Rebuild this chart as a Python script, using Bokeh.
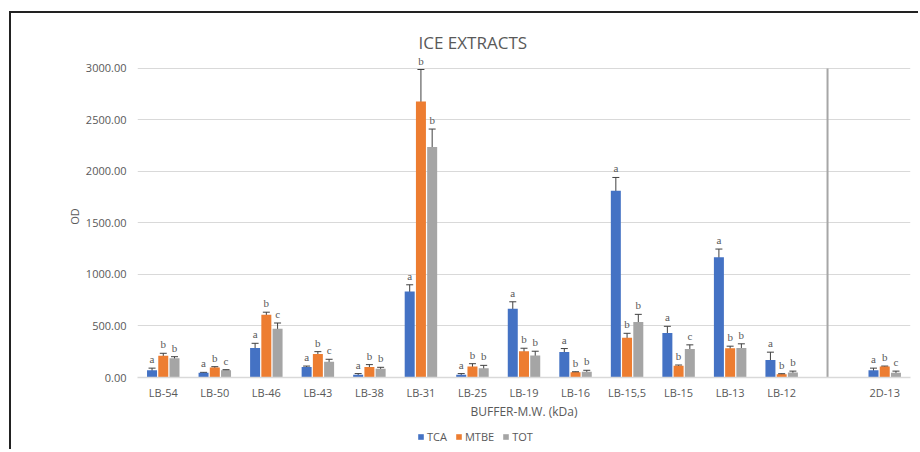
from bokeh.plotting import figure
from bokeh.layouts import column
from bokeh.models import (ColumnDataSource, Range1d, FixedTicker, NumeralTickFormatter,
                          Whisker, TeeHead, LabelSet, Legend, LegendItem, Title)
from bokeh.embed import file_html
from bokeh.resources import INLINE

categories = ["LB-54", "LB-50", "LB-46", "LB-43", "LB-38", "LB-31", "LB-25", "LB-19",
              "LB-16", "LB-15,5", "LB-15", "LB-13", "LB-12", "2D-13"]
series = ["TCA", "MTBE", "TOT"]
tca = [71, 45, 287, 103, 26, 835, 26, 667, 248, 1812, 432, 1167, 171, 71]
tca_err = [20, 5, 45, 8, 12, 65, 12, 68, 33, 130, 65, 80, 75, 20]
mtbe = [210, 97, 609, 229, 103, 2680, 106, 255, 52, 387, 113, 284, 32, 106]
mtbe_err = [25, 8, 25, 22, 22, 310, 28, 29, 4, 42, 8, 20, 5, 5]
tot = [187, 71, 474, 152, 84, 2237, 90, 213, 55, 539, 277, 287, 48, 45]
tot_err = [15, 5, 55, 25, 15, 175, 28, 42, 15, 74, 40, 40, 14, 17]
tca_letters = ["a"] * 14
mtbe_letters = ["b"] * 14
tot_letters = ["b", "c", "c", "c", "b", "b", "b", "b", "b", "b", "c", "b", "b", "c"]
y_ticks = [0, 500, 1000, 1500, 2000, 2500, 3000]

colors = ["#4472C4", "#ED7D31", "#A5A5A5"]
TXT = "#595959"
FONT = "Open Sans"
FRAME = "2px solid #222222"

# slot index; an empty slot separates the 2D sample
gap_after = 13
xpos = [i if i < gap_after else i + 1 for i in range(len(categories))]

p = figure(width=909, height=412, x_range=Range1d(-0.5, 14.5), y_range=Range1d(0, 3126),
           output_backend="svg", toolbar_location=None,
           min_border_left=126, min_border_right=10, min_border_top=42, min_border_bottom=48)
p.styles = {"margin-left": "9px", "margin-top": "11px",
            "border-left": FRAME, "border-top": FRAME}
p.outline_line_color = None
p.xgrid.grid_line_color = None
p.ygrid.grid_line_color = "#D9D9D9"
p.ygrid.ticker = FixedTicker(ticks=y_ticks)

t = Title(text="ICE EXTRACTS", align="left", offset=281, standoff=3,
          text_font=FONT, text_font_size="17px", text_font_style="normal", text_color=TXT)
p.add_layout(t, "above")

# y axis
p.yaxis.ticker = FixedTicker(ticks=y_ticks)
p.yaxis.formatter = NumeralTickFormatter(format="0.00")
p.yaxis.axis_line_color = None
p.yaxis.major_tick_line_color = None
p.yaxis.minor_tick_line_color = None
p.yaxis.major_tick_out = 0
p.yaxis.major_tick_in = 0
p.yaxis.major_label_standoff = 11
p.yaxis.major_label_text_font = FONT
p.yaxis.major_label_text_font_size = "11px"
p.yaxis.major_label_text_color = TXT
p.yaxis.axis_label = "OD"
p.yaxis.axis_label_text_font = FONT
p.yaxis.axis_label_text_font_size = "11px"
p.yaxis.axis_label_text_font_style = "normal"
p.yaxis.axis_label_text_color = TXT
p.yaxis.axis_label_standoff = 1

# x axis
p.xaxis.ticker = FixedTicker(ticks=xpos)
p.xaxis.major_label_overrides = {x: c for x, c in zip(xpos, categories)}
p.xaxis.axis_line_color = "#D9D9D9"
p.xaxis.axis_line_width = 1.5
p.xaxis.major_tick_line_color = None
p.xaxis.minor_tick_line_color = None
p.xaxis.major_tick_out = 0
p.xaxis.major_tick_in = 0
p.xaxis.major_label_standoff = 7
p.xaxis.major_label_text_font = FONT
p.xaxis.major_label_text_font_size = "11px"
p.xaxis.major_label_text_color = TXT
p.xaxis.axis_label = "BUFFER-M.W. (kDa)"
p.xaxis.axis_label_text_font = FONT
p.xaxis.axis_label_text_font_size = "12px"
p.xaxis.axis_label_text_font_style = "normal"
p.xaxis.axis_label_text_color = TXT
p.xaxis.axis_label_standoff = 0

offsets = [-0.218, 0.0, 0.218]
values = [tca, mtbe, tot]
errors = [tca_err, mtbe_err, tot_err]
letters = [tca_letters, mtbe_letters, tot_letters]
for k in range(3):
    xs = [x + offsets[k] for x in xpos]
    src = ColumnDataSource(dict(
        x=xs, top=values[k],
        upper=[v + e for v, e in zip(values[k], errors[k])],
        lower=[v - e for v, e in zip(values[k], errors[k])],
        lab=letters[k]))
    p.vbar(x="x", top="top", bottom=0, width=0.194, source=src,
           fill_color=colors[k], line_color=None)
    w = Whisker(base="x", upper="upper", lower="lower", source=src,
                line_color="#404040", line_width=1,
                upper_head=TeeHead(size=7, line_color="#404040", line_width=1),
                lower_head=TeeHead(size=7, line_color="#404040", line_width=1))
    p.add_layout(w)
    ls = LabelSet(x="x", y="upper", text="lab", source=src, text_align="center",
                  text_baseline="bottom", y_offset=3, text_font=FONT,
                  text_font_size="11px", text_color=TXT)
    p.add_layout(ls)

# separator line between the LB series and the 2D sample
sep_x = gap_after - 0.11
p.segment(x0=[sep_x], x1=[sep_x], y0=[-10], y1=[max(y_ticks)],
          line_color="#A6A6A6", line_width=2)

# legend strip below the chart (its frame is aligned with the chart's frame)
lf = figure(width=909, height=26, x_range=Range1d(0, 1), y_range=Range1d(0, 1),
            x_axis_type=None, y_axis_type=None, output_backend="svg", toolbar_location=None,
            min_border=0)
lf.styles = {"margin-left": "9px", "border-left": FRAME}
lf.outline_line_color = None
# invisible proxies (zero-height, outside the strip's range) that carry the legend swatches
leg_renderers = [lf.vbar(x=[-1], top=[0], bottom=[0], width=0.01, fill_color=c, line_color=None)
                 for c in colors]
legend = Legend(items=[LegendItem(label=s, renderers=[r]) for s, r in zip(series, leg_renderers)],
                orientation="horizontal", location=(280, 5),
                glyph_width=7, glyph_height=7, label_standoff=3, spacing=8,
                padding=0, margin=0, label_height=12, label_width=10,
                border_line_color=None, background_fill_alpha=0,
                label_text_font=FONT, label_text_font_size="11px", label_text_color=TXT)
lf.add_layout(legend, "center")

layout = column(p, lf, spacing=0)
open("out.html", "w").write(file_html(layout, INLINE))
